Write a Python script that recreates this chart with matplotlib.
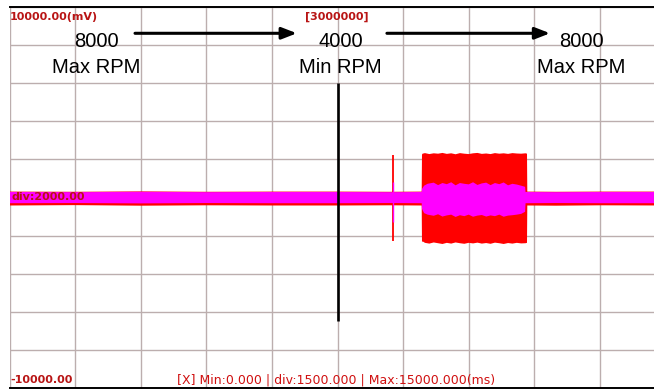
import matplotlib

matplotlib.use("Agg")
import matplotlib.pyplot as plt
from matplotlib.ticker import MultipleLocator

# scope window: time in ms, amplitude in mV
X_MIN, X_MAX, X_DIV = 0.0, 15000.0, 1500.0
Y_MIN, Y_MAX, Y_DIV = -10000.0, 10000.0, 2000.0

# red trace envelope (raw signal)
red_t = [0, 1500, 3000, 4500, 6000, 7500, 8700, 9425, 9432, 9445, 9500, 9600, 9700, 9800,
         9900, 10000, 10100, 10200, 10300, 10400, 10500, 10600, 10700, 10800, 10900, 11000,
         11100, 11200, 11300, 11400, 11500, 11600, 11700, 11800, 11833, 11840, 12500, 13500, 15000]
red_hi = [310, 300, 320, 300, 310, 310, 300, 310, 2250, 2300, 2330, 2280, 2320, 2300,
          2340, 2290, 2320, 2270, 2330, 2300, 2280, 2320, 2340, 2290, 2310, 2280,
          2330, 2300, 2320, 2290, 2330, 2310, 2300, 2320, 2300, 310, 300, 310, 310]
red_lo = [-420, -400, -430, -410, -420, -420, -410, -420, -2350, -2300, -2380, -2420, -2360, -2400,
          -2440, -2380, -2420, -2360, -2400, -2430, -2380, -2410, -2370, -2420, -2390, -2430,
          -2370, -2400, -2440, -2390, -2420, -2380, -2410, -2400, -2380, -420, -430, -410, -420]

# magenta trace envelope (filtered signal)
mag_t = [0, 1500, 3000, 4500, 6000, 7500, 8700, 9425, 9432, 9480, 9560, 9700, 9800, 9900,
         10000, 10100, 10200, 10300, 10400, 10500, 10600, 10700, 10800, 10900, 11000, 11100,
         11200, 11300, 11400, 11500, 11600, 11700, 11790, 11800, 12500, 13500, 15000]
mag_hi = [290, 280, 300, 280, 290, 290, 280, 290, 450, 620, 720, 780, 650, 760,
          700, 800, 640, 760, 720, 690, 800, 660, 740, 780, 650, 760,
          700, 790, 640, 720, 680, 620, 560, 290, 280, 290, 290]
mag_lo = [-300, -290, -310, -290, -300, -300, -290, -300, -600, -820, -900, -960, -880, -1000,
          -940, -900, -1020, -930, -980, -900, -1010, -950, -920, -1000, -940, -980,
          -900, -1010, -950, -930, -900, -860, -750, -300, -290, -300, -300]

# single transient before the burst
spike_t = 8770
spike_red = (-2280, 2250)
spike_mag = (-1300, 800)

# marker line and rpm labels
marker_t = 7500
marker_span = (-6500, 6000)
rpm_values = ["8000", "4000", "8000"]
rpm_names = ["Max RPM", "Min RPM", "Max RPM"]
rpm_t = [1980, 7570, 13070]
arrow_spans = [(2870, 6570), (8630, 12360)]

RED = "#ff0000"
MAGENTA = "#ff00ff"
LABEL_RED = "#b81414"
GRID = "#bcaeae"

fig = plt.figure(figsize=(6.54, 3.89), dpi=100)
W, H = 654.0, 389.0
# plot area runs past the right edge of the figure, as on the scope screen
ax = fig.add_axes([9.5 / W, 1.0 / H, 656.0 / W, 381.0 / H])
ax.set_xlim(X_MIN, X_MAX)
ax.set_ylim(Y_MIN, Y_MAX)
ax.xaxis.set_major_locator(MultipleLocator(X_DIV))
ax.yaxis.set_major_locator(MultipleLocator(Y_DIV))
ax.tick_params(length=0, labelbottom=False, labelleft=False)
ax.grid(True, color=GRID, linewidth=1.0)
ax.set_axisbelow(True)
for side in ("left", "right"):
    ax.spines[side].set_visible(False)
for side in ("top", "bottom"):
    ax.spines[side].set_color("black")
    ax.spines[side].set_linewidth(1.4)

ax.fill_between(red_t, red_lo, red_hi, color=RED, linewidth=0, zorder=2)
ax.vlines(spike_t, *spike_red, color=RED, linewidth=1.3, zorder=2)
ax.fill_between(mag_t, mag_lo, mag_hi, color=MAGENTA, linewidth=0, zorder=3)
ax.vlines(spike_t, *spike_mag, color=MAGENTA, linewidth=1.0, zorder=3)

ax.vlines(marker_t, *marker_span, color="black", linewidth=1.9, zorder=4)

for t, val, name in zip(rpm_t, rpm_values, rpm_names):
    ax.text(t, 8200, val, ha="center", va="center", fontsize=14.5,
            family="Liberation Sans", zorder=5)
    ax.text(t, 6850, name, ha="center", va="center", fontsize=14.5,
            family="Liberation Sans", zorder=5)
for start, end in arrow_spans:
    ax.annotate("", xy=(end, 8620), xytext=(start, 8620),
                arrowprops=dict(arrowstyle="-|>,head_length=0.9,head_width=0.35",
                                color="black", linewidth=2.2, shrinkA=0, shrinkB=0),
                zorder=5)

ax.text(50, 0, "div:2000.00", ha="left", va="center", fontsize=8, fontweight="bold",
        color=LABEL_RED, zorder=6)

fig.text(10 / W, 1 - 17 / H, "10000.00(mV)", ha="left", va="center", fontsize=8,
         fontweight="bold", color=LABEL_RED)
fig.text(337 / W, 1 - 17 / H, "[3000000]", ha="center", va="center", fontsize=8,
         fontweight="bold", color=LABEL_RED)
fig.text(10 / W, 1 - 380 / H, "-10000.00", ha="left", va="center", fontsize=8,
         fontweight="bold", color=LABEL_RED)
fig.text(336 / W, 1 - 380 / H, "[X] Min:0.000 | div:1500.000 | Max:15000.000(ms)",
         ha="center", va="center", fontsize=9, color="#d01010")

fig.savefig("out.png", dpi=100, facecolor="white")
